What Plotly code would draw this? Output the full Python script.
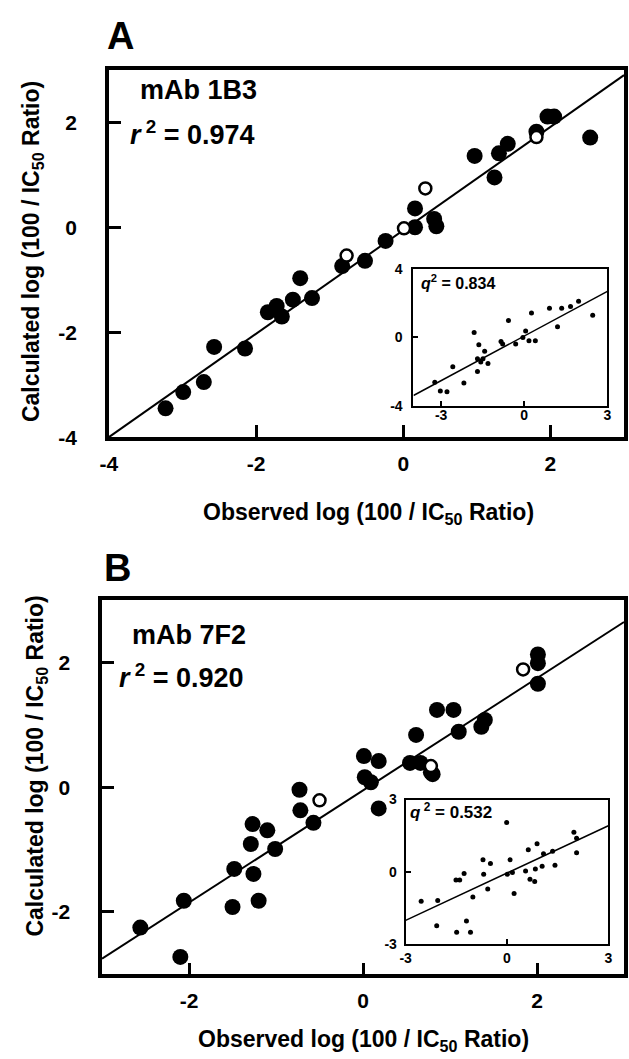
import plotly.graph_objects as go

W, H = 629, 1059

# ---------------- Panel A (mAb 1B3) ----------------
a_obs = [-3.23, -2.99, -2.71, -2.57, -2.15, -1.84, -1.72, -1.65, -1.50, -1.40, -1.24,
         -0.83, -0.52, -0.24, 0.16, 0.16, 0.42, 0.45, 0.97, 1.24, 1.30, 1.42, 1.81,
         1.96, 2.05, 2.54]
a_calc = [-3.45, -3.14, -2.95, -2.28, -2.31, -1.62, -1.50, -1.70, -1.38, -0.97, -1.35,
          -0.74, -0.64, -0.26, 0.36, 0.00, 0.16, 0.02, 1.36, 0.95, 1.41, 1.59, 1.82,
          2.11, 2.11, 1.71]
a_open_obs = [-0.77, 0.01, 0.30, 1.81]
a_open_calc = [-0.54, -0.02, 0.74, 1.72]
a_fit_x = [-4.0, 3.0]
a_fit_y = [-4.0, 2.9]
a_ticks = [-4, -2, 0, 2]
a_ticktext = ["-4", "-2", "0", "2"]

# inset A (cross-validation, q2 = 0.834)
ai_obs = [-3.23, -3.03, -2.79, -2.58, -2.18, -1.81, -1.64, -1.69, -1.57, -1.69, -1.43,
          -1.31, -1.49, -0.84, -0.78, -0.57, -0.31, 0.05, -0.05, 0.17, 0.40, 0.26,
          0.91, 1.20, 1.35, 1.67, 1.96, 2.47]
ai_pred = [-2.63, -3.14, -3.18, -1.71, -2.67, 0.29, -0.42, -1.24, -1.43, -2.00, -0.80,
           -1.52, -1.24, -0.23, -0.38, 0.99, -0.38, 0.38, 0.00, -0.19, -0.19, 1.43,
           1.71, 0.63, 1.71, 1.81, 2.13, 1.30]
ai_fit_x = [-4.0, 3.0]
ai_fit_y = [-3.4, 2.7]
ai_xticks = [-3, 0, 3]
ai_xticktext = ["-3", "0", "3"]
ai_yticks = [-4, 0, 4]
ai_yticktext = ["-4", "0", "4"]

# ---------------- Panel B (mAb 7F2) ----------------
b_obs = [-2.56, -2.06, -2.10, -1.50, -1.48, -1.20, -1.26, -1.29, -1.27, -1.10, -1.01,
         -0.73, -0.72, -0.57, 0.18, 0.01, 0.02, 0.09, 0.18, 0.54, 0.66, 0.61, 0.78,
         0.80, 0.85, 1.04, 1.10, 1.36, 1.40, 2.01, 2.01, 2.01]
b_calc = [-2.25, -1.82, -2.72, -1.92, -1.31, -1.82, -1.39, -0.91, -0.59, -0.69, -0.99,
          -0.04, -0.37, -0.57, -0.34, 0.50, 0.16, 0.08, 0.42, 0.39, 0.39, 0.84, 0.24,
          0.21, 1.24, 1.24, 0.89, 0.97, 1.08, 2.13, 1.99, 1.66]
b_open_obs = [-0.50, 0.78, 1.84]
b_open_calc = [-0.21, 0.34, 1.89]
b_fit_x = [-3.0, 3.0]
b_fit_y = [-2.75, 2.65]
b_ticks = [-2, 0, 2]
b_ticktext = ["-2", "0", "2"]

# inset B (cross-validation, q2 = 0.532)
bi_obs = [-2.54, -2.08, -2.05, -1.51, -1.40, -1.27, -1.49, -1.20, -1.08, -1.01, -0.71,
          -0.49, -0.69, -0.57, 0.01, 0.09, 0.16, 0.21, -0.01, 0.55, 0.63, 0.68, 0.82,
          0.89, 0.84, 1.04, 1.08, 1.35, 1.42, 1.98, 2.06, 2.06]
bi_pred = [-1.23, -2.25, -1.20, -0.34, -0.34, -0.07, -2.52, -2.05, -2.52, -1.05, 0.50,
           0.34, -0.10, -0.72, -0.10, 0.50, -0.03, -0.91, 2.05, 0.03, 0.91, -0.31, -0.41,
           1.16, 0.11, 0.23, 0.75, 0.85, 0.27, 1.64, 1.39, 0.79]
bi_fit_x = [-3.0, 3.0]
bi_fit_y = [-2.02, 1.91]
bi_ticks = [-3, 0, 3]
bi_ticktext = ["-3", "0", "3"]

# ---------------- helpers ----------------
def fx(p):
    return p / W

def fy(p):
    return 1 - p / H

FONT = "Liberation Sans"

fig = go.Figure()

def add_panel(xa, ya, fit_x, fit_y, xs, ys, oxs=None, oys=None, size=16, lw=2):
    fig.add_trace(go.Scatter(x=fit_x, y=fit_y, mode="lines", xaxis=xa, yaxis=ya,
                             line=dict(color="black", width=lw), showlegend=False,
                             hoverinfo="skip"))
    fig.add_trace(go.Scatter(x=xs, y=ys, mode="markers", xaxis=xa, yaxis=ya,
                             marker=dict(color="black", size=size, line=dict(width=0)),
                             showlegend=False))
    if oxs:
        fig.add_trace(go.Scatter(x=oxs, y=oys, mode="markers", xaxis=xa, yaxis=ya,
                                 marker=dict(color="white", size=12,
                                             line=dict(color="black", width=2.5)),
                                 showlegend=False))

add_panel("x", "y", a_fit_x, a_fit_y, a_obs, a_calc, a_open_obs, a_open_calc)
add_panel("x2", "y2", ai_fit_x, ai_fit_y, ai_obs, ai_pred, size=5, lw=1.5)
add_panel("x3", "y3", b_fit_x, b_fit_y, b_obs, b_calc, b_open_obs, b_open_calc)
add_panel("x4", "y4", bi_fit_x, bi_fit_y, bi_obs, bi_pred, size=5, lw=1.5)

main_ax = dict(showgrid=False, zeroline=False, showline=True, linecolor="black",
               linewidth=3.5, mirror=True, ticks="inside", ticklen=12, tickwidth=3,
               tickcolor="black", tickmode="array",
               tickfont=dict(family=FONT, size=21, color="black", weight="bold"))
inset_ax = dict(showgrid=False, zeroline=False, showline=True, linecolor="black",
                linewidth=2, mirror=True, ticks="inside", ticklen=5, tickwidth=2,
                tickcolor="black", tickmode="array",
                tickfont=dict(family=FONT, size=14, color="black", weight="bold"))

fig.update_layout(
    width=W, height=H, margin=dict(l=0, r=0, t=0, b=0),
    paper_bgcolor="white", plot_bgcolor="white",
    xaxis=dict(main_ax, domain=[fx(102), fx(628)], range=[-4, 3], anchor="y",
               tickvals=a_ticks, ticktext=a_ticktext, ticklabelstandoff=5),
    yaxis=dict(main_ax, domain=[fy(437), fy(63)], range=[-4, 3], anchor="x",
               tickvals=a_ticks, ticktext=a_ticktext, ticklabelstandoff=24),
    xaxis2=dict(inset_ax, domain=[fx(413), fx(611)], range=[-4, 3], anchor="y2",
                tickvals=ai_xticks, ticktext=ai_xticktext, ticklabelstandoff=-5),
    yaxis2=dict(inset_ax, domain=[fy(405), fy(266)], range=[-4, 4], anchor="x2",
                tickvals=ai_yticks, ticktext=ai_yticktext, ticklabelstandoff=6),
    xaxis3=dict(main_ax, domain=[fx(95), fx(628)], range=[-3, 3], anchor="y3",
                tickvals=b_ticks, ticktext=b_ticktext, ticklabelstandoff=5),
    yaxis3=dict(main_ax, domain=[fy(984), fy(603)], range=[-3, 3], anchor="x3",
                tickvals=b_ticks, ticktext=b_ticktext, ticklabelstandoff=24),
    xaxis4=dict(inset_ax, domain=[fx(405), fx(612)], range=[-3, 3], anchor="y4",
                tickvals=bi_ticks, ticktext=bi_ticktext, ticklabelstandoff=0),
    yaxis4=dict(inset_ax, domain=[fy(953), fy(806)], range=[-3, 3], anchor="x4",
                tickvals=bi_ticks, ticktext=bi_ticktext, ticklabelstandoff=4),
)

def ann(text, x, y, size, xanchor="left", yanchor="middle", angle=0):
    fig.add_annotation(text=text, x=fx(x), y=fy(y), xref="paper", yref="paper",
                       xanchor=xanchor, yanchor=yanchor, showarrow=False,
                       textangle=angle, borderpad=0,
                       font=dict(family=FONT, size=size, color="black", weight="bold"))

# panel letters
ann("A", 99, 29, 38)
ann("B", 96, 570, 38)

# in-panel labels
ann("mAb 1B3", 133, 84, 27)
ann("<i>r</i><sup> 2</sup> = 0.974", 123, 127, 27)
ann("mAb 7F2", 125, 638, 27)
ann("<i>r</i><sup> 2</sup> = 0.920", 111, 680, 27)
ann("<i>q</i><sup>2</sup> = 0.834", 420, 279, 16)
ann("<i>q</i><sup> 2</sup> = 0.532", 408, 818, 17)

# axis titles
xt = "Observed log (100 / IC<sub>50</sub> Ratio)"
yt = "Calculated log (100 / IC<sub>50</sub> Ratio)"
ann(xt, 367, 515, 23, xanchor="center")
ann(xt, 362, 1051, 23, xanchor="center")
ann(yt, 24, 248, 23, xanchor="center", angle=-90)
ann(yt, 28, 772, 23, xanchor="center", angle=-90)

fig.write_html("out.html",
               config={"displayModeBar": False},
               post_script="document.body.style.margin='0';"
                           "document.body.style.overflow='hidden';")
